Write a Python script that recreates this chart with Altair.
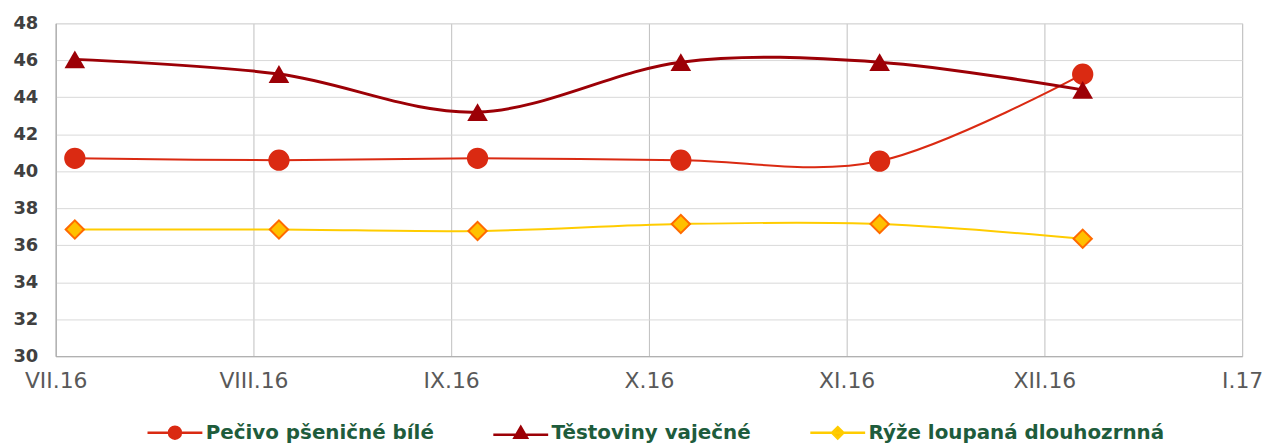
import altair as alt
import pandas as pd

# ---- data ----
dates = ["2016-07-04", "2016-08-05", "2016-09-05", "2016-10-06", "2016-11-06", "2016-12-07"]
series_names = ["Pečivo pšeničné bílé", "Těstoviny vaječné", "Rýže loupaná dlouhozrnná"]
pecivo = [40.7, 40.6, 40.7, 40.6, 40.55, 45.25]
testoviny = [46.05, 45.26, 43.2, 45.9, 45.9, 44.4]
ryze = [36.85, 36.85, 36.77, 37.15, 37.15, 36.35]
y_ticks = [30, 32, 34, 36, 38, 40, 42, 44, 46, 48]
month_labels = ["VII.16", "VIII.16", "IX.16", "X.16", "XI.16", "XII.16", "I.17"]

start = pd.Timestamp("2016-07-01")
rows = []
for name, vals in zip(series_names, [pecivo, testoviny, ryze]):
    for d, v in zip(dates, vals):
        t = pd.Timestamp(d)
        mi = (t.year - start.year) * 12 + (t.month - start.month)
        pos = mi + (t.day - 1) / t.days_in_month
        rows.append({"pos": pos, "value": v, "series": name})
df = pd.DataFrame(rows)

line_colors = ["#DA2A12", "#9C0006", "#FFCC00"]
fill_colors = ["#DA2A12", "#9C0006", "#FFC000"]
marker_strokes = ["#DA2A12", "#9C0006", "#FF6A00"]
marker_shapes = ["circle", "triangle-up", "diamond"]
marker_sizes = [460, 430, 340]
line_widths = [2, 3, 2]
legend_paths = [
    "M-4.6,0L-1,0M1,0L4.6,0M-1,0A1,1,0,1,0,1,0A1,1,0,1,0,-1,0Z",
    "M-4.6,0.25L4.6,0.25M0,-1.05L1.05,0.75L-1.05,0.75Z",
    "M-4.6,0L4.6,0M0,-0.95L0.95,0L0,0.95L-0.95,0Z",
]

label_js = "[" + ",".join("'%s'" % s for s in month_labels) + "]"

x_enc = alt.X(
    "pos:Q",
    scale=alt.Scale(domain=[0, len(month_labels) - 1], nice=False, zero=False),
    axis=alt.Axis(
        values=list(range(len(month_labels))),
        tickCount=20,
        labelExpr=label_js + "[round(datum.value)]",
        title=None,
        grid=True,
        gridColor="#BFBFBF",
        ticks=False,
        domainColor="#A6A6A6",
        labelFont="DejaVu Sans",
        labelFontSize=22,
        labelColor="#595959",
        labelPadding=14,
        labelAlign="center",
        labelFlush=False,
        labelOverlap=False,
    ),
)
y_enc = alt.Y(
    "value:Q",
    scale=alt.Scale(domain=[30, 48], nice=False, zero=False),
    axis=alt.Axis(
        values=y_ticks,
        tickCount=20,
        title=None,
        grid=True,
        gridColor="#D9D9D9",
        ticks=False,
        domainColor="#A6A6A6",
        labelFont="DejaVu Sans",
        labelFontSize=18,
        labelFontWeight="bold",
        labelColor="#404040",
        labelPadding=18,
        labelOverlap=False,
        labelFlush=False,
    ),
)

base = alt.Chart(df)

layers = []
for i, name in enumerate(series_names):
    sub = base.transform_filter(alt.datum.series == name)
    layers.append(
        sub.mark_line(interpolate="cardinal", color=line_colors[i], strokeWidth=line_widths[i]).encode(
            x=x_enc, y=y_enc
        )
    )
for i, name in enumerate(series_names):
    sub = base.transform_filter(alt.datum.series == name)
    layers.append(
        sub.mark_point(
            shape=marker_shapes[i], filled=True, size=marker_sizes[i], fill=fill_colors[i],
            stroke=marker_strokes[i], strokeWidth=2 if i == 2 else 0, opacity=1,
        ).encode(x="pos:Q", y="value:Q")
    )

legend_layer = base.transform_filter("datum.value < 0").mark_point(
    filled=True, size=144, strokeWidth=2.5, opacity=1
).encode(
    x="pos:Q",
    y="value:Q",
    fill=alt.Fill(
        "series:N",
        scale=alt.Scale(domain=series_names, range=fill_colors),
        legend=alt.Legend(
            title=None,
            orient="none",
            direction="horizontal",
            columns=3,
            legendX=88,
            legendY=402,
            symbolSize=144,
            symbolStrokeWidth=2.5,
            symbolOffset=22,
            labelOffset=21,
            columnPadding=54,
            labelFont="DejaVu Sans",
            labelFontSize=20,
            labelFontWeight="bold",
            labelColor="#1E5C3C",
            labelLimit=400,
        ),
    ),
    stroke=alt.Stroke("series:N", scale=alt.Scale(domain=series_names, range=line_colors)),
    shape=alt.Shape("series:N", scale=alt.Scale(domain=series_names, range=legend_paths)),
)
layers.append(legend_layer)

chart = (
    alt.layer(*layers)
    .properties(
        width=1194,
        height=335,
        autosize=alt.AutoSizeParams(type="none"),
        padding={"left": 48, "top": 14, "right": 26, "bottom": 95},
        background="white",
    )
    .configure_view(stroke="#D9D9D9")
)

chart.save("out.html", embed_options={"renderer": "svg", "actions": False})
